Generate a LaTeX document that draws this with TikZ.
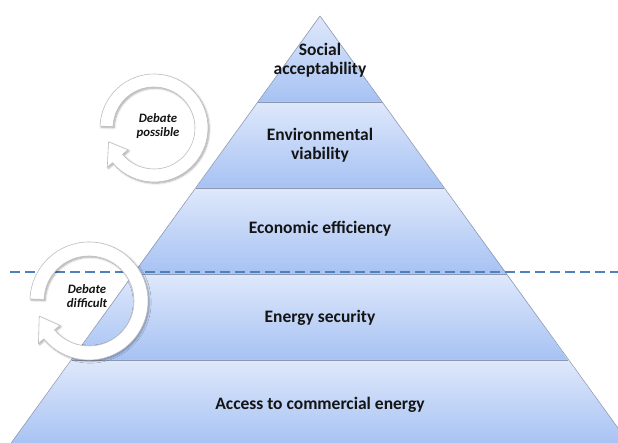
\documentclass[tikz,border=0pt]{standalone}
\usepackage{fontspec}
\setmainfont{Carlito}
\usetikzlibrary{shadows.blur}
\definecolor{layertop}{RGB}{223,232,251}
\definecolor{layerbot}{RGB}{166,194,243}
\definecolor{edgegray}{RGB}{140,152,178}
\definecolor{dashblue}{RGB}{79,129,189}

% circular arrow: centre, outer radius, inner radius
\newcommand{\drawcyclearrow}[3]{%
  \begin{scope}[shift={(#1)}]
    \path[ringarrow]
      (178:#2) arc[start angle=178, end angle=-140, radius=#2]
      -- (-140:{#2+7}) -- (-163:{(#2+#3)/2}) -- (-140:{#3-7})
      -- (-140:#3) arc[start angle=-140, end angle=178, radius=#3] -- cycle;
  \end{scope}}

\begin{document}
\begin{tikzpicture}[x=1pt, y=1pt,
  layertext/.style={font=\fontsize{17.5}{19}\selectfont\bfseries, align=center, text=black!92},
  debatetext/.style={font=\fontsize{12.8}{14.5}\selectfont\bfseries\itshape, align=center, text=black!92},
  layerfill/.style={top color=layertop, bottom color=layerbot},
  layerline/.style={draw=edgegray, line width=0.6pt},
  ringarrow/.style={fill=white, draw=gray!50, line width=0.6pt,
    blur shadow={shadow xshift=1.2pt, shadow yshift=-1.2pt, shadow blur steps=6, shadow opacity=35}},
  limitline/.style={draw=dashblue, line width=2.7pt, dash pattern=on 10pt off 5pt},
]
\useasboundingbox (0,0) rectangle (618,443);
\clip (0,0) rectangle (618,443);

% pyramid layers, top to bottom
\shade[layerfill] (320,427) -- (382,341) -- (258,341) -- cycle;
\shade[layerfill] (258,341) -- (382,341) -- (444,255) -- (196,255) -- cycle;
\shade[layerfill] (196,255) -- (444,255) -- (507,169) -- (133,169) -- cycle;
\shade[layerfill] (133,169) -- (507,169) -- (568,83) -- (72,83) -- cycle;
\shade[layerfill] (72,83) -- (568,83) -- (631,-3) -- (9,-3) -- cycle;

% layer separations and outline
\draw[layerline] (258,341) -- (382,341);
\draw[layerline] (196,255) -- (444,255);
\draw[layerline] (133,169) -- (507,169);
\draw[layerline] (72,83) -- (568,83);
\draw[layerline, line join=round] (9,-3) -- (320,427) -- (631,-3);

% layer labels
\node[layertext] (social)   at (320,383) {Social\\acceptability};
\node[layertext] (environ)  at (320,298) {Environmental\\viability};
\node[layertext] (economic) at (320,214) {Economic efficiency};
\node[layertext] (security) at (320,125) {Energy security};
\node[layertext] (access)   at (320,38)  {Access to commercial energy};

% dividing line
\coordinate (divl) at (10,171);
\coordinate (divr) at (620,171);
\draw[limitline] (divl) -- (divr);

% debate cycles
\drawcyclearrow{154,315}{54}{41}
\node[debatetext] (possible) at (158,317) {Debate\\possible};
\drawcyclearrow{89,142}{59}{45}
\node[debatetext] (difficult) at (87,147) {Debate\\difficult};
\end{tikzpicture}
\end{document}
